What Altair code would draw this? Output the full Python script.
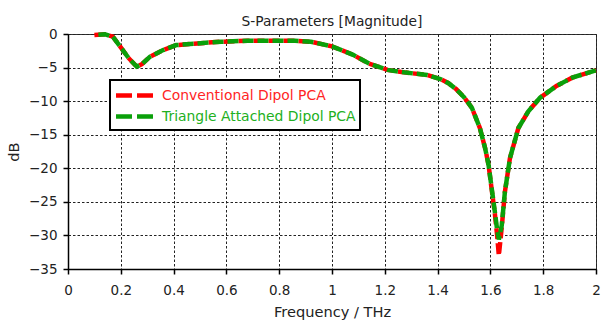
import altair as alt
import pandas as pd

# ---- data ----
freq = [0.10, 0.14, 0.17, 0.20, 0.23, 0.26, 0.28, 0.31, 0.36, 0.41, 0.49, 0.58,
        0.68, 0.79, 0.86, 0.92, 1.00, 1.08, 1.14, 1.21, 1.28, 1.36, 1.41, 1.44,
        1.47, 1.50, 1.53, 1.56, 1.58, 1.593, 1.605, 1.617, 1.625, 1.632, 1.643,
        1.655, 1.674, 1.706, 1.744, 1.788, 1.85, 1.91, 2.00]

conventional = [-0.15, -0.05, -0.4, -2.0, -3.6, -4.85, -4.5, -3.4, -2.4, -1.65, -1.4, -1.15,
                -1.0, -1.0, -1.0, -1.15, -1.85, -3.1, -4.4, -5.35, -5.75, -6.1, -6.7, -7.3,
                -8.2, -9.4, -11.0, -14.0, -17.0, -19.5, -23.2, -26.8, -29.8, -33.0, -28.8,
                -23.5, -18.5, -14.0, -11.5, -9.5, -7.75, -6.5, -5.4]

triangle = [-0.15, -0.05, -0.4, -2.0, -3.6, -4.85, -4.5, -3.4, -2.4, -1.65, -1.4, -1.15,
            -1.0, -1.0, -1.0, -1.15, -1.85, -3.1, -4.4, -5.35, -5.75, -6.1, -6.7, -7.3,
            -8.2, -9.4, -11.0, -14.0, -17.0, -19.5, -23.0, -26.5, -29.0, -30.6, -28.5,
            -23.5, -18.5, -14.0, -11.5, -9.5, -7.75, -6.5, -5.4]

series_names = ["Conventional Dipol PCA", "Triangle Attached Dipol PCA"]
series_colors = ["#ff0000", "#0aa00a"]
x_ticks = [0, 0.2, 0.4, 0.6, 0.8, 1.0, 1.2, 1.4, 1.6, 1.8, 2.0]
y_ticks = [0, -5, -10, -15, -20, -25, -30, -35]

df_conv = pd.DataFrame({"f": freq, "db": conventional, "series": series_names[0]})
df_tri = pd.DataFrame({"f": freq, "db": triangle, "series": series_names[1]})

FONT = "DejaVu Sans"

x_enc = alt.X("f:Q", scale=alt.Scale(domain=[0, 2], nice=False),
              axis=alt.Axis(values=x_ticks, format="~g", title="Frequency / THz",
                            titlePadding=8))
y_enc = alt.Y("db:Q", scale=alt.Scale(domain=[-35, 0], nice=False),
              axis=alt.Axis(values=y_ticks, format="d", title="dB", titlePadding=7))
color_enc = alt.Color(
    "series:N",
    scale=alt.Scale(domain=series_names, range=series_colors),
    legend=alt.Legend(
        title=None, orient="none", legendX=42, legendY=46,
        symbolType="M-2,0H2", symbolSize=342, symbolStrokeWidth=4.5,
        symbolOffset=9, symbolDash=[16, 5], labelOffset=16, padding=4, rowPadding=0,
        fillColor="white", strokeColor="black", labelLimit=400,
        labelFont=FONT, labelFontSize=13.9,
        labelColor={"expr": "datum.label == 'Conventional Dipol PCA' ? '#ff2424' : '#22b022'"},
    ),
)

red = alt.Chart(df_conv).mark_line(strokeWidth=4.5, strokeDash=[11, 4]).encode(
    x=x_enc, y=y_enc, color=color_enc)
green = alt.Chart(df_tri).mark_line(strokeWidth=4.5, strokeDash=[11, 4], strokeDashOffset=11).encode(
    x=x_enc, y=y_enc, color=color_enc)

chart = (
    alt.layer(red, green)
    .properties(
        width=528, height=235,
        title=alt.TitleParams("S-Parameters [Magnitude]", font=FONT, fontSize=13.8,
                              fontWeight="normal", color="#222222", anchor="middle",
                              baseline="alphabetic", offset=-14),
        autosize=alt.AutoSizeParams(type="none"),
        padding={"left": 68, "top": 34, "right": 6, "bottom": 52},
    )
    .configure_view(stroke="#333333", strokeWidth=1)
    .configure_axis(
        labelFont=FONT, labelFontSize=13.5, labelColor="#222222", labelFlush=False,
        titleFont=FONT, titleFontSize=14.6, titleFontWeight="normal", titleColor="#222222",
        domainColor="#000000", domainWidth=1.5, tickColor="#000000", tickWidth=1.5,
        tickSize=5, gridColor="#222222", gridDash=[2.5, 2], gridWidth=1, gridOpacity=1,
    )
    .configure_axisX(labelPadding=9)
    .configure_axisY(labelPadding=6)
    .configure_legend(strokeWidth=2)
)

chart.save("out.html", embed_options={"renderer": "svg", "actions": False})
